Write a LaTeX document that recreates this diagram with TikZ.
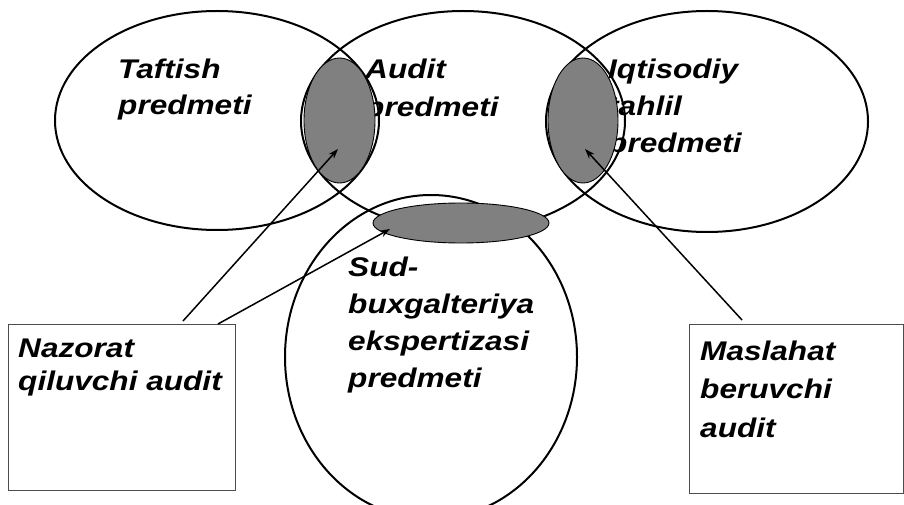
\documentclass[tikz,border=0pt]{standalone}
\usepackage{fontspec}
\newfontfamily\lblfont[FakeStretch=1.17]{Liberation Sans}
\usetikzlibrary{shapes.geometric,arrows.meta}
\newcommand\lblsize[1]{\lblfont\bfseries\itshape\fontsize{27}{#1}\selectfont}
\begin{document}
\begin{tikzpicture}[x=1pt,y=-1pt,
  region/.style={draw=black,line width=2pt,ellipse,inner sep=0pt},
  lens/.style={draw=black,line width=0.9pt,ellipse,inner sep=0pt,fill=black!50},
  labelbox/.style={draw=black!70,line width=1.2pt,rectangle,inner sep=0pt,anchor=north west},
  lbl/.style={anchor=base west,inner sep=0pt,align=left,font=\lblsize{36.5}},
  pointer/.style={draw=black,line width=1.5pt,-{Stealth[length=10pt,width=7pt]}}]
\useasboundingbox (0,0) rectangle (904,505);

% four subject areas
\node[region,minimum width=324pt,minimum height=219pt] (taftish) at (217,120.5) {};
\node[region,minimum width=324pt,minimum height=220pt] (audit) at (463,121) {};
\node[region,minimum width=322pt,minimum height=221pt] (iqtisod) at (707,121.5) {};
\node[region,minimum width=292pt,minimum height=324pt] (sud) at (431,357) {};

% area names (placed by the baseline of their last line)
\node[lbl,font=\lblsize{36}] (tTaftish) at (118,115) {Taftish\\predmeti};
\node[lbl,font=\lblsize{38}] (tAudit) at (365,117) {Audit\\predmeti};
\node[lbl,font=\lblsize{37}] (tIqtisod) at (608,153) {Iqtisodiy\\tahlil\\predmeti};
\node[lbl,font=\lblsize{36.7}] (tSud) at (348,387) {Sud-\\buxgalteriya\\ekspertizasi\\predmeti};

% shaded overlaps
\node[lens,minimum width=71pt,minimum height=125pt] (lensL) at (339.5,120.5) {};
\node[lens,minimum width=70pt,minimum height=125pt] (lensR) at (583,120.5) {};
\node[lens,minimum width=176pt,minimum height=40pt] (lensB) at (461,223) {};

% audit kinds
\node[labelbox,minimum width=227pt,minimum height=166pt] (boxL) at (8,324) {};
\node[labelbox,minimum width=214pt,minimum height=169pt] (boxR) at (689,324) {};
\node[lbl,font=\lblsize{33.5}] (tNazorat) at (18,390.5) {Nazorat\\qiluvchi audit};
\node[lbl,font=\lblsize{38.5}] (tMaslahat) at (700,437) {Maslahat\\beruvchi\\audit};

% pointers
\coordinate (pL) at ([xshift=175pt,yshift=3pt]boxL.north west);
\coordinate (pB) at ([xshift=210pt]boxL.north west);
\coordinate (pR) at ([xshift=53pt,yshift=4pt]boxR.north west);
\draw[pointer] (pL) -- ([xshift=-1.5pt,yshift=-28.5pt]lensL.center);
\draw[pointer] (pB) -- ([xshift=-71pt,yshift=-6pt]lensB.center);
\draw[pointer] (pR) -- ([xshift=2pt,yshift=-28.5pt]lensR.center);
\end{tikzpicture}
\end{document}
